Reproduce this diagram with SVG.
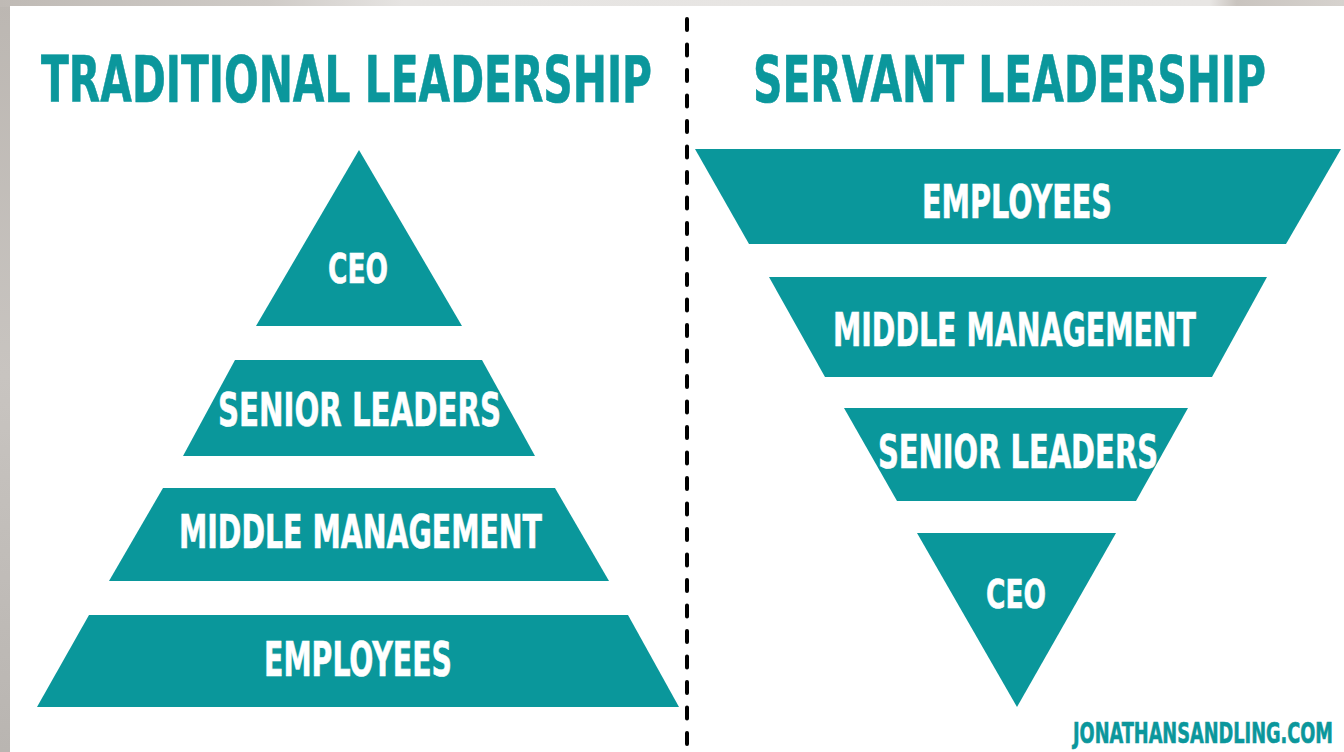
<svg xmlns="http://www.w3.org/2000/svg" width="1344" height="752" viewBox="0 0 1344 752">
<defs>
<linearGradient id="topStrip" x1="0" y1="0" x2="1" y2="0">
<stop offset="0" stop-color="#bfbab5"/>
<stop offset="0.2" stop-color="#cfcbc7"/>
<stop offset="0.3" stop-color="#e6e4e2"/>
<stop offset="0.9" stop-color="#e8e6e4"/>
<stop offset="0.92" stop-color="#c9c4bf"/>
<stop offset="1" stop-color="#d6d2ce"/>
</linearGradient>
<linearGradient id="leftStrip" x1="0" y1="0" x2="0" y2="1">
<stop offset="0" stop-color="#bcb7b2"/>
<stop offset="0.5" stop-color="#c8c4c0"/>
<stop offset="1" stop-color="#b9b5b1"/>
</linearGradient>
</defs>
<style>
.shape{fill:#0a979b}
.lbl{fill:#ffffff;stroke:#ffffff;stroke-width:0.6;font-family:"DejaVu Sans Condensed","DejaVu Sans","Liberation Sans",sans-serif;font-weight:bold;font-stretch:condensed}
.title{fill:#0b979c;stroke:#0b979c;stroke-width:0.6;font-family:"DejaVu Sans Condensed","DejaVu Sans","Liberation Sans",sans-serif;font-weight:bold;font-stretch:condensed}
</style>
<rect x="0" y="0" width="1344" height="752" fill="url(#leftStrip)"/>
<rect x="0" y="0" width="1344" height="7" fill="url(#topStrip)"/>
<rect x="10" y="6" width="1334" height="746" fill="#ffffff"/>

<g id="titles">
<text class="title" x="41" y="102" font-size="64" textLength="611" lengthAdjust="spacingAndGlyphs">TRADITIONAL LEADERSHIP</text>
<text class="title" x="753" y="102" font-size="64" textLength="513" lengthAdjust="spacingAndGlyphs">SERVANT LEADERSHIP</text>
</g>

<g id="connectors">
<line x1="687" y1="19" x2="687" y2="752" stroke="#000000" stroke-width="4" stroke-linecap="round" stroke-dasharray="11 14.5"/>
</g>

<g id="trad-ceo">
<polygon class="shape" points="359,150 462,326 256,326"/>
<text class="lbl" x="328" y="283" font-size="40" textLength="60" lengthAdjust="spacingAndGlyphs">CEO</text>
</g>
<g id="trad-senior-leaders">
<polygon class="shape" points="235,360 482,360 535,456 183,456"/>
<text class="lbl" x="218" y="426" font-size="47" textLength="283" lengthAdjust="spacingAndGlyphs">SENIOR LEADERS</text>
</g>
<g id="trad-middle-management">
<polygon class="shape" points="163,488 555,488 609,581 109,581"/>
<text class="lbl" x="179" y="548" font-size="46" textLength="363" lengthAdjust="spacingAndGlyphs">MIDDLE MANAGEMENT</text>
</g>
<g id="trad-employees">
<polygon class="shape" points="89,615 628,615 679,707 37,707"/>
<text class="lbl" x="264" y="676" font-size="48" textLength="188" lengthAdjust="spacingAndGlyphs">EMPLOYEES</text>
</g>

<g id="serv-employees">
<polygon class="shape" points="695,149 1341,149 1286,244 749,244"/>
<text class="lbl" x="922" y="218" font-size="46" textLength="190" lengthAdjust="spacingAndGlyphs">EMPLOYEES</text>
</g>
<g id="serv-middle-management">
<polygon class="shape" points="769,277 1267,277 1212,377 825,377"/>
<text class="lbl" x="833" y="346" font-size="46" textLength="363" lengthAdjust="spacingAndGlyphs">MIDDLE MANAGEMENT</text>
</g>
<g id="serv-senior-leaders">
<polygon class="shape" points="844,408 1188,408 1136,501 897,501"/>
<text class="lbl" x="878" y="468" font-size="47" textLength="280" lengthAdjust="spacingAndGlyphs">SENIOR LEADERS</text>
</g>
<g id="serv-ceo">
<polygon class="shape" points="917,533 1116,533 1017,707"/>
<text class="lbl" x="986" y="608" font-size="39" textLength="60" lengthAdjust="spacingAndGlyphs">CEO</text>
</g>

<g id="credit">
<text class="title" x="1073" y="743" font-size="28" textLength="260" lengthAdjust="spacingAndGlyphs">JONATHANSANDLING.COM</text>
</g>
</svg>
